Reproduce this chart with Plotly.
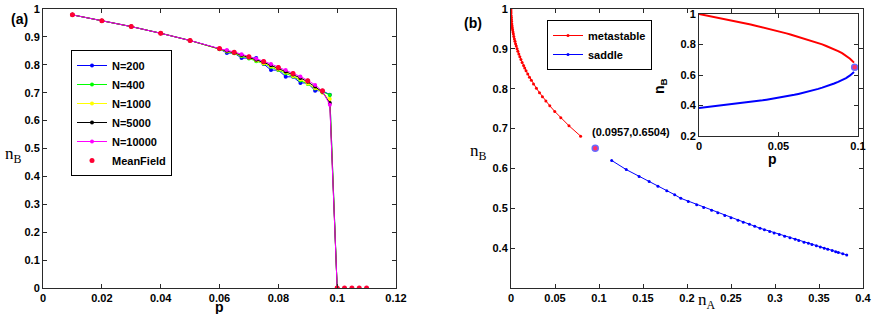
import plotly.graph_objects as go

# ---------------- Panel (a): n_B vs p ----------------
p_sim = [0.01, 0.02, 0.03, 0.04, 0.05, 0.06, 0.0625, 0.065, 0.0675, 0.07, 0.0725,
         0.075, 0.0775, 0.08, 0.0825, 0.085, 0.0875, 0.09, 0.0925, 0.095, 0.0975, 0.1]
nB_N200 = [0.979, 0.958, 0.937, 0.913, 0.887, 0.857, 0.842, 0.842, 0.824, 0.824, 0.824,
           0.803, 0.781, 0.781, 0.757, 0.757, 0.735, 0.735, 0.707, 0.707, 0.693, 0.0]
nB_N400 = [0.979, 0.958, 0.937, 0.913, 0.887, 0.856, 0.848, 0.841, 0.831, 0.823, 0.813,
           0.804, 0.792, 0.781, 0.770, 0.758, 0.744, 0.731, 0.715, 0.702, 0.692, 0.0]
nB_N1000 = [0.979, 0.958, 0.937, 0.913, 0.887, 0.856, 0.849, 0.842, 0.833, 0.825, 0.815,
            0.806, 0.795, 0.783, 0.773, 0.760, 0.748, 0.733, 0.717, 0.700, 0.677, 0.0]
nB_N5000 = [0.979, 0.958, 0.937, 0.913, 0.887, 0.857, 0.850, 0.843, 0.835, 0.826, 0.818,
            0.809, 0.798, 0.787, 0.776, 0.765, 0.753, 0.739, 0.722, 0.703, 0.663, 0.0]
nB_N10000 = [0.979, 0.958, 0.937, 0.913, 0.887, 0.858, 0.853, 0.846, 0.838, 0.830, 0.822,
             0.813, 0.803, 0.792, 0.781, 0.770, 0.758, 0.744, 0.728, 0.705, 0.657, 0.0]

p_mf = [0.01, 0.02, 0.03, 0.04, 0.05, 0.06, 0.065, 0.07, 0.075, 0.08, 0.085, 0.09, 0.095,
        0.1, 0.1025, 0.105, 0.1075, 0.11]
nB_mf = [0.979, 0.958, 0.937, 0.913, 0.887, 0.858, 0.845, 0.829, 0.812, 0.790, 0.769, 0.743,
         0.707, 0.0, 0.0, 0.0, 0.0, 0.0]

sim_names = ["N=200", "N=400", "N=1000", "N=5000", "N=10000"]
sim_colors = ["#0000ff", "#00ff00", "#ffff00", "#000000", "#ff00ff"]
sim_values = [nB_N200, nB_N400, nB_N1000, nB_N5000, nB_N10000]

# ---------------- Panel (b): fixed points ----------------
p_branch = [0.0, 0.0025, 0.005, 0.0075, 0.01, 0.0125, 0.015, 0.0175, 0.02, 0.0225,
            0.025, 0.0275, 0.03, 0.0325, 0.035, 0.0375, 0.04, 0.0425, 0.045, 0.0475,
            0.05, 0.0525, 0.055, 0.0575, 0.06, 0.0625, 0.065, 0.0675, 0.07, 0.0725,
            0.075, 0.0775, 0.08, 0.0825, 0.085, 0.0875, 0.09, 0.0925, 0.095, 0.0975]
nB_meta = [1.000, 0.995, 0.990, 0.984, 0.979, 0.974, 0.969, 0.963, 0.958, 0.953,
           0.948, 0.942, 0.937, 0.931, 0.925, 0.919, 0.913, 0.907, 0.900, 0.894,
           0.887, 0.880, 0.873, 0.866, 0.858, 0.852, 0.845, 0.837, 0.829, 0.821,
           0.812, 0.801, 0.790, 0.780, 0.769, 0.757, 0.743, 0.727, 0.707, 0.681]
nA_meta = [0.0, 0.00002, 0.00007, 0.00017, 0.00029, 0.00045, 0.00064, 0.00091, 0.00118, 0.00148,
           0.00181, 0.00227, 0.00268, 0.00323, 0.00383, 0.00448, 0.00518, 0.00594, 0.0069, 0.00778,
           0.00888, 0.01005, 0.0113, 0.01263, 0.01425, 0.01554, 0.01711, 0.0190, 0.0210, 0.0231,
           0.0256, 0.0289, 0.0324, 0.0357, 0.0396, 0.0441, 0.0497, 0.0566, 0.0659, 0.0791]
nB_saddle = [0.383, 0.386, 0.389, 0.391, 0.394, 0.397, 0.400, 0.403, 0.406, 0.409,
             0.412, 0.415, 0.419, 0.422, 0.426, 0.430, 0.434, 0.438, 0.442, 0.446,
             0.450, 0.455, 0.460, 0.465, 0.470, 0.476, 0.482, 0.489, 0.495, 0.502,
             0.509, 0.517, 0.525, 0.534, 0.544, 0.555, 0.567, 0.580, 0.597, 0.620]
nA_saddle = [0.3815, 0.377, 0.372, 0.369, 0.365, 0.360, 0.356, 0.3515, 0.347, 0.342,
             0.338, 0.333, 0.327, 0.323, 0.317, 0.311, 0.305, 0.299, 0.294, 0.288,
             0.283, 0.277, 0.271, 0.264, 0.258, 0.250, 0.243, 0.235, 0.228, 0.219,
             0.211, 0.2015, 0.193, 0.186, 0.177, 0.167, 0.157, 0.1456, 0.131, 0.1144]
fold_nA = 0.0957
fold_nB = 0.6504
fold_p = 0.0979

# ---------------- Figure ----------------
W, H = 872, 314
SANS = "Liberation Sans, Arial, Helvetica, sans-serif"
SERIF = "Liberation Serif, Times New Roman, serif"

fig = go.Figure()

for name, col, vals in zip(sim_names, sim_colors, sim_values):
    fig.add_trace(go.Scatter(x=p_sim, y=vals, mode="lines+markers", name=name,
                             line=dict(color=col, width=1), marker=dict(color=col, size=4),
                             xaxis="x", yaxis="y", legend="legend"))
fig.add_trace(go.Scatter(x=p_mf, y=nB_mf, mode="markers", name="MeanField",
                         marker=dict(color="#ff0033", size=5),
                         xaxis="x", yaxis="y", legend="legend"))

# panel b main
fig.add_trace(go.Scatter(x=nA_meta, y=nB_meta, mode="lines+markers", name="metastable",
                         line=dict(color="#ff0000", width=1), marker=dict(color="#ff0000", size=3),
                         xaxis="x2", yaxis="y2", legend="legend2"))
fig.add_trace(go.Scatter(x=nA_saddle, y=nB_saddle, mode="lines+markers", name="saddle",
                         line=dict(color="#0000ff", width=1), marker=dict(color="#0000ff", size=3),
                         xaxis="x2", yaxis="y2", legend="legend2"))
fig.add_trace(go.Scatter(x=[fold_nA], y=[fold_nB], mode="markers", showlegend=False,
                         marker=dict(color="#ff3366", size=6, line=dict(color="#6a6aff", width=1.5)),
                         xaxis="x2", yaxis="y2"))

# inset
fig.add_trace(go.Scatter(x=p_branch, y=nB_meta, mode="lines", showlegend=False,
                         line=dict(color="#ff0000", width=2), xaxis="x3", yaxis="y3"))
fig.add_trace(go.Scatter(x=p_branch, y=nB_saddle, mode="lines", showlegend=False,
                         line=dict(color="#0000ff", width=2), xaxis="x3", yaxis="y3"))
fig.add_trace(go.Scatter(x=[fold_p], y=[fold_nB], mode="markers", showlegend=False,
                         marker=dict(color="#ff3366", size=6, line=dict(color="#6a6aff", width=1.5)),
                         xaxis="x3", yaxis="y3"))


def px_x(a, b):
    return [a / W, b / W]


def px_y(top, bottom):
    return [1 - bottom / H, 1 - top / H]


tickfont = dict(family=SANS, size=11, color="black", weight="bold")
base = dict(showline=True, linecolor="#2a2a2a", linewidth=1, mirror="ticks", ticks="inside",
            ticklen=4, tickcolor="#2a2a2a", tickwidth=1, showgrid=False, zeroline=False,
            tickfont=tickfont, fixedrange=True, automargin=False)

xa_ticks = [0, 0.02, 0.04, 0.06, 0.08, 0.1, 0.12]
ya_ticks = [0, 0.1, 0.2, 0.3, 0.4, 0.5, 0.6, 0.7, 0.8, 0.9, 1]
xb_ticks = [0, 0.05, 0.1, 0.15, 0.2, 0.25, 0.3, 0.35, 0.4]
yb_ticks = [0.4, 0.5, 0.6, 0.7, 0.8, 0.9, 1]
xi_ticks = [0, 0.05, 0.1]
yi_ticks = [0.2, 0.4, 0.6, 0.8, 1]


def lab(v):
    return "%g" % v


fig.update_layout(
    template="none",
    width=W, height=H,
    margin=dict(l=0, r=0, t=0, b=0, autoexpand=False),
    paper_bgcolor="white", plot_bgcolor="white",
    xaxis=dict(base, domain=px_x(43, 396), range=[0, 0.12], tickvals=xa_ticks,
               ticktext=[lab(v) for v in xa_ticks], anchor="y"),
    yaxis=dict(base, domain=px_y(9, 288), range=[0, 1], tickvals=ya_ticks,
               ticktext=[lab(v) for v in ya_ticks], anchor="x"),
    xaxis2=dict(base, domain=px_x(511, 863), range=[0, 0.4], tickvals=xb_ticks,
                ticktext=[lab(v) for v in xb_ticks], anchor="y2"),
    yaxis2=dict(base, domain=px_y(9, 288), range=[0.3, 1], tickvals=yb_ticks,
                ticktext=[lab(v) for v in yb_ticks], anchor="x2"),
    xaxis3=dict(base, domain=px_x(699, 858), range=[0, 0.1], tickvals=xi_ticks,
                ticktext=[lab(v) for v in xi_ticks], anchor="y3"),
    yaxis3=dict(base, domain=px_y(14, 136), range=[0.2, 1], tickvals=yi_ticks,
                ticktext=[lab(v) for v in yi_ticks], anchor="x3"),
    legend=dict(x=71 / W, y=1 - 50 / H, xanchor="left", yanchor="top",
                bgcolor="white", bordercolor="black", borderwidth=1,
                font=dict(family=SANS, size=11, color="black", weight="bold"),
                itemwidth=30, tracegroupgap=0),
    legend2=dict(x=547 / W, y=1 - 20 / H, xanchor="left", yanchor="top",
                 bgcolor="white", bordercolor="black", borderwidth=1,
                 font=dict(family=SANS, size=11, color="black", weight="bold"),
                 itemwidth=30, tracegroupgap=0),
    showlegend=True,
)

ann = []
ann.append(dict(x=9 / W, y=1 - 9 / H, xref="paper", yref="paper", text="<b>(a)</b>",
                showarrow=False, font=dict(family=SANS, size=14, color="black")))
ann.append(dict(x=473 / W, y=1 - 13 / H, xref="paper", yref="paper", text="<b>(b)</b>",
                showarrow=False, font=dict(family=SANS, size=14, color="black")))
ann.append(dict(x=219 / W, y=0, xref="paper", yref="paper", text="<b>p</b>",
                xanchor="center", yanchor="bottom", yshift=-3,
                showarrow=False, font=dict(family=SANS, size=14, color="black")))
ann.append(dict(x=3 / W, y=1 - 155 / H, xref="paper", yref="paper", text="n<sub>B</sub>",
                xanchor="left",
                showarrow=False, font=dict(family=SERIF, size=17, color="black")))
ann.append(dict(x=479 / W, y=1 - 152 / H, xref="paper", yref="paper", text="n<sub>B</sub>",
                showarrow=False, font=dict(family=SERIF, size=17, color="black")))
ann.append(dict(x=707 / W, y=0, xref="paper", yref="paper", text="n<sub>A</sub>",
                xanchor="center", yanchor="bottom",
                showarrow=False, font=dict(family=SERIF, size=17, color="black")))
ann.append(dict(x=779 / W, y=1 - 159 / H, xref="paper", yref="paper", text="<b>p</b>",
                showarrow=False, font=dict(family=SANS, size=14, color="black")))
ann.append(dict(x=671 / W, y=1 - 76 / H, xref="paper", yref="paper", text="<b>n<sub>B</sub></b>",
                textangle=-90, showarrow=False, font=dict(family=SANS, size=14, color="black")))
ann.append(dict(x=fold_nA, y=fold_nB, xref="x2", yref="y2",
                text="<b>(%.4f,%.4f)</b>" % (fold_nA, fold_nB),
                xanchor="left", yanchor="middle", xshift=-5, yshift=16,
                showarrow=False, font=dict(family=SANS, size=11, color="black")))
fig.update_layout(annotations=ann)

fig.write_html("out.html", config={"displayModeBar": False, "staticPlot": True},
               post_script="document.body.style.margin='0px';")
